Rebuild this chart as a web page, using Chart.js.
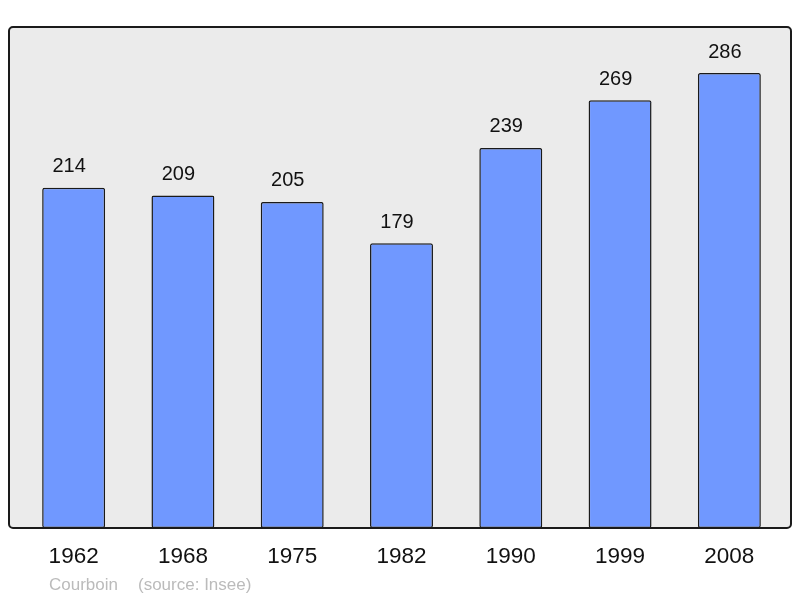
<!DOCTYPE html>
<html>
<head>
<meta charset="utf-8">
<script src="https://cdn.jsdelivr.net/npm/chart.js@4"></script>
<style>
  html, body { margin: 0; padding: 0; background: #fff; }
  canvas { display: block; }
</style>
</head>
<body>
<canvas id="pop" width="800" height="598"></canvas>
<script>
const years = ["1962", "1968", "1975", "1982", "1990", "1999", "2008"];
const population = [214, 209, 205, 179, 239, 269, 286];
const townName = "Courboin";
const sourceText = "(source: Insee)";

const FONT = "'Liberation Sans', Arial, sans-serif";

// grey frame behind the bars
const framePlugin = {
  id: "frame",
  beforeDatasetsDraw(chart) {
    const ctx = chart.ctx;
    ctx.save();
    ctx.beginPath();
    ctx.roundRect(9, 27, 782, 501, 4);
    ctx.fillStyle = "#ebebeb";
    ctx.fill();
    ctx.restore();
  },
  afterDatasetsDraw(chart) {
    const ctx = chart.ctx;
    ctx.save();
    ctx.beginPath();
    ctx.roundRect(9, 27, 782, 501, 4);
    ctx.lineWidth = 2;
    ctx.strokeStyle = "#1a1a1a";
    ctx.stroke();
    ctx.restore();
  },
};

// value labels, year labels and the footer
const labelsPlugin = {
  id: "labels",
  afterDraw(chart) {
    const ctx = chart.ctx;
    const meta = chart.getDatasetMeta(0);
    const xScale = chart.scales.x;
    ctx.save();
    ctx.textAlign = "center";
    ctx.textBaseline = "middle";
    ctx.fillStyle = "#111";
    ctx.font = "20px " + FONT;
    meta.data.forEach((bar, i) => {
      ctx.fillText(String(population[i]), bar.x - 4.5, bar.y - 21);
    });
    ctx.font = "22.5px " + FONT;
    years.forEach((y, i) => {
      ctx.fillText(y, xScale.getPixelForValue(i), 557);
    });
    ctx.textAlign = "left";
    ctx.fillStyle = "#bbbbbb";
    ctx.font = "17px " + FONT;
    ctx.fillText(townName, 49, 585);
    ctx.fillText(sourceText, 138, 585);
    ctx.restore();
  },
};

new Chart(document.getElementById("pop"), {
  type: "bar",
  data: {
    labels: years,
    datasets: [{
      data: population,
      backgroundColor: "#7098ff",
      borderColor: "#1a1a1a",
      borderWidth: 1.5,
      borderRadius: 2,
      borderSkipped: false,
      categoryPercentage: 1,
      barPercentage: 0.576,
    }],
  },
  options: {
    responsive: false,
    animation: false,
    layout: { padding: { left: 19, right: 16, top: 27, bottom: 70 } },
    plugins: { legend: { display: false }, tooltip: { enabled: false } },
    scales: {
      x: { display: false },
      y: { display: false, min: 0, max: 315 },
    },
  },
  plugins: [framePlugin, labelsPlugin],
});
</script>
</body>
</html>
